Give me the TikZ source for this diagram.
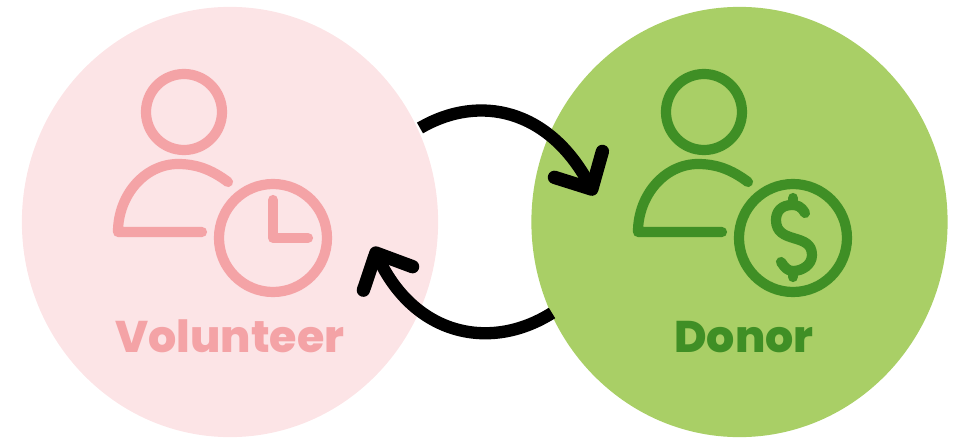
\documentclass[tikz,border=0pt]{standalone}
\usepackage{fontspec}
\setmainfont[BoldFont={Poppins ExtraBold}]{Poppins}
\usetikzlibrary{arrows.meta,shapes.geometric}
\definecolor{pinkfill}{HTML}{FCE4E6}
\definecolor{pinkline}{HTML}{F4A3A6}
\definecolor{greenfill}{HTML}{A9CF66}
\definecolor{greenline}{HTML}{3F8F25}
\tikzstyle{disc} = [ellipse, minimum width=4.16cm, minimum height=4.3cm, inner sep=0pt]
\tikzstyle{icon} = [line width=2.9pt, line cap=round, line join=round]
\tikzstyle{swap} = [draw, line width=3.5pt, -{Straight Barb[length=8pt, width=15.5pt, round, line width=3.8pt]}]
\tikzstyle{label} = [anchor=base, font=\fontsize{12.6}{15}\selectfont\bfseries]

\begin{document}
\begin{tikzpicture}[x=0.01cm, y=-0.01cm]
\useasboundingbox (0,0) rectangle (953,439);
\node [disc, fill=pinkfill] (volunteer) at (230,222) {};
\node [disc, fill=greenfill] (donor) at (739.5,222) {};
% people
\foreach \dx/\col in {0/pinkline, 520/greenline} {
  \draw [icon, \col] (184+\dx,112) circle (38);
  \draw [icon, \col] (228+\dx,182) .. controls (212+\dx,170) and (197+\dx,164) .. (178+\dx,164)
    .. controls (145+\dx,164) and (118+\dx,195) .. (118+\dx,232) -- (202+\dx,232);
  \draw [icon, \col] (273+\dx,238) circle (54);
}
% clock hands
\draw [icon, pinkline] (273,200) -- (273,238) -- (308,238);
% dollar sign
\draw [icon, greenline] (805,213) .. controls (801,206) and (797,205) .. (792,205)
  .. controls (781,205) and (776,212) .. (776,220)
  .. controls (776,245) and (812,232) .. (812,255)
  .. controls (812,265) and (802,271) .. (793,271)
  .. controls (788,271) and (785,268) .. (781,262);
\draw [icon, greenline] (793,198) -- (793,205);
\draw [icon, greenline] (793,271) -- (793,277);
\node [label, text=pinkline] (volunteer-text) at (230,352) {Volunteer};
\node [label, text=greenline] (donor-text) at (744,352) {Donor};
% arrows
\coordinate (top-start) at (420,128);
\coordinate (top-end) at (595,195);
\coordinate (low-start) at (552,313);
\coordinate (low-end) at (373,247);
\path [swap] (top-start) .. controls (480,93) and (549,110) .. (top-end);
\path [swap] (low-start) .. controls (490,352) and (415,335) .. (low-end);
\end{tikzpicture}
\end{document}
